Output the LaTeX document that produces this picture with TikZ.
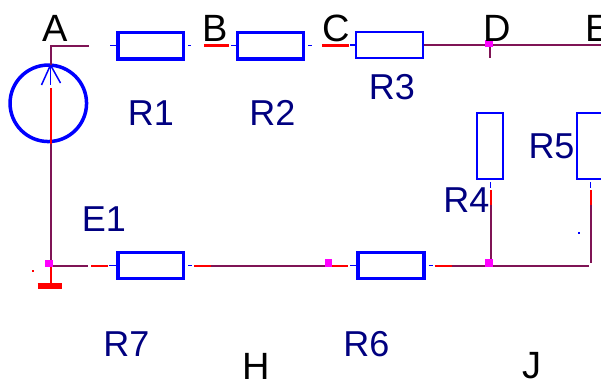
\documentclass[tikz,border=0pt]{standalone}
\usepackage{fontspec}
\setmainfont{Liberation Sans}
\usetikzlibrary{positioning}
\definecolor{wirecol}{HTML}{7F1455}
\definecolor{labelcol}{HTML}{000080}
\definecolor{jncol}{HTML}{FF00FF}
\tikzset{
	wire/.style={draw=wirecol,line width=2pt},
	hot/.style={draw=red,line width=2pt},
	hotbar/.style={draw=red,line width=3pt},
	pin/.style={draw=blue,line width=1.5pt},
	fatres/.style={draw=blue,line width=3.4pt,minimum width=65.8pt,minimum height=26.4pt,inner sep=0pt},
	thinres/.style={draw=blue,line width=2pt,minimum width=67pt,minimum height=26pt,inner sep=0pt},
	tallres/.style={draw=blue,line width=2pt,minimum width=26pt,minimum height=66pt,inner sep=0pt},
	junction/.style={fill=jncol,inner sep=0pt,minimum size=7.5pt},
	pinlabel/.style={font=\fontsize{38}{38}\selectfont,text=black,inner sep=0pt},
	partlabel/.style={font=\fontsize{36}{36}\selectfont,text=labelcol,inner sep=0pt}
}
\begin{document}
\begin{tikzpicture}[x=1pt,y=-1pt]
	\useasboundingbox (0,0) rectangle (601,378);
	% resistors
	\node[fatres] (R1box) at (150.7,45.7) {};
	\node[fatres] (R2box) at (270.5,45.7) {};
	\node[thinres] (R3box) at (389.5,45) {};
	\node[tallres] (R4box) at (490,146) {};
	\node[tallres] (R5box) at (590,146) {};
	\node[fatres] (R6box) at (391,265.5) {};
	\node[fatres] (R7box) at (150.7,265.5) {};
	% source
	\node[circle,draw=blue,line width=3.5pt,minimum size=76.5pt,inner sep=0pt] (E1sym) at (48.3,103.3) {};
	\coordinate (Atop) at (50.5,45.5);
	\coordinate (Abot) at (50.5,265.5);
	\coordinate (tip) at (50.5,65);
	% top row
	\draw[wire] (88.5,45.5) -- (Atop) -- (tip);
	\draw[pin] (R1box.west) -- ++(-6,0);
	\draw[pin] (R1box.east) ++(3,0) -- ++(3,0);
	\draw[hotbar] ([xshift=19pt]R1box.east) -- ++(25,0);
	\draw[pin] (R2box.west) -- ++(-5,0);
	\draw[pin] (R2box.east) ++(3,0) -- ++(4,0);
	\draw[hotbar] ([xshift=-33pt]R3box.west) -- ++(27,0);
	\draw[pin] (R3box.west) -- ++(-5,0);
	\draw[wire] (R3box.east) -- (601,45);
	\draw[wire] (490,45) -- (490,58);
	% source
	\draw[pin] (tip) -- ++(0,20);
	\draw[pin] (tip) -- ++(-9,20);
	\draw[pin] (tip) -- ++(10,18);
	\draw[hot] (50.5,88) -- (50.5,144);
	\draw[wire] (50.5,144) -- (Abot);
	% ground
	\draw[hot] (Abot) -- (50.5,285);
	\draw[red,line width=6pt] (37.7,285.8) -- (61.7,285.8);
	\fill[red] (32,270) rectangle (34,272);
	% bottom row
	\draw[wire] (Abot) -- (88,265.5);
	\draw[hot] (91,265.5) -- (108,265.5);
	\draw[pin] (R7box.west) -- ++(-7,0);
	\draw[pin] (R7box.east) ++(3,0) -- ++(4,0);
	\draw[hot] ([xshift=9pt]R7box.east) -- ++(17,0) coordinate (Ra);
	\draw[wire] (Ra) -- (330,265.5);
	\draw[hot] (330,265.5) -- (348,265.5);
	\draw[pin] (R6box.west) -- ++(-6,0);
	\draw[pin] (R6box.east) ++(3,0) -- ++(4,0);
	\draw[hot] ([xshift=9pt]R6box.east) -- ++(17,0) coordinate (Rb);
	\draw[wire] (Rb) -- (589,265.5);
	% right legs
	\draw[pin] (R4box.south) ++(0.7,2) -- ++(0,6);
	\draw[hot] (490.7,190) -- (490.7,205);
	\draw[wire] (490.7,205) -- (490.7,264);
	\draw[pin] (R5box.south) ++(0.7,2) -- ++(0,6);
	\draw[hot] (590.7,190) -- (590.7,205);
	\draw[wire] (590.7,205) -- (590.7,263);
	\fill[blue] (577.5,232) rectangle (580,234);
	% junctions
	\node[junction] (Djn) at (489,43.5) {};
	\node[junction] (Hjn) at (328.5,263) {};
	\node[junction] (Jjn) at (489,263) {};
	\node[junction] (Ajn) at (49,263.5) {};
	% labels
	\node[pinlabel] (Alab) at (55.5,28) {A};
	\node[pinlabel] (Blab) at (215.5,28) {B};
	\node[pinlabel] (Clab) at (336,28) {C};
	\node[pinlabel] (Dlab) at (497,28) {D};
	\node[pinlabel] (Elab) at (598,28) {E};
	\node[pinlabel] (Hlab) at (256,366) {H};
	\node[pinlabel] (Jlab) at (532,366) {J};
	\node[partlabel] (R1lab) at (151,113) {R1};
	\node[partlabel] (R2lab) at (272.5,113) {R2};
	\node[partlabel] (R3lab) at (392,87) {R3};
	\node[partlabel] (R4lab) at (466.5,200) {R4};
	\node[partlabel] (R5lab) at (551.5,146) {R5};
	\node[partlabel] (R6lab) at (366.5,344) {R6};
	\node[partlabel] (R7lab) at (126.5,344) {R7};
	\node[partlabel] (E1lab) at (104,219) {E1};
\end{tikzpicture}
\end{document}
